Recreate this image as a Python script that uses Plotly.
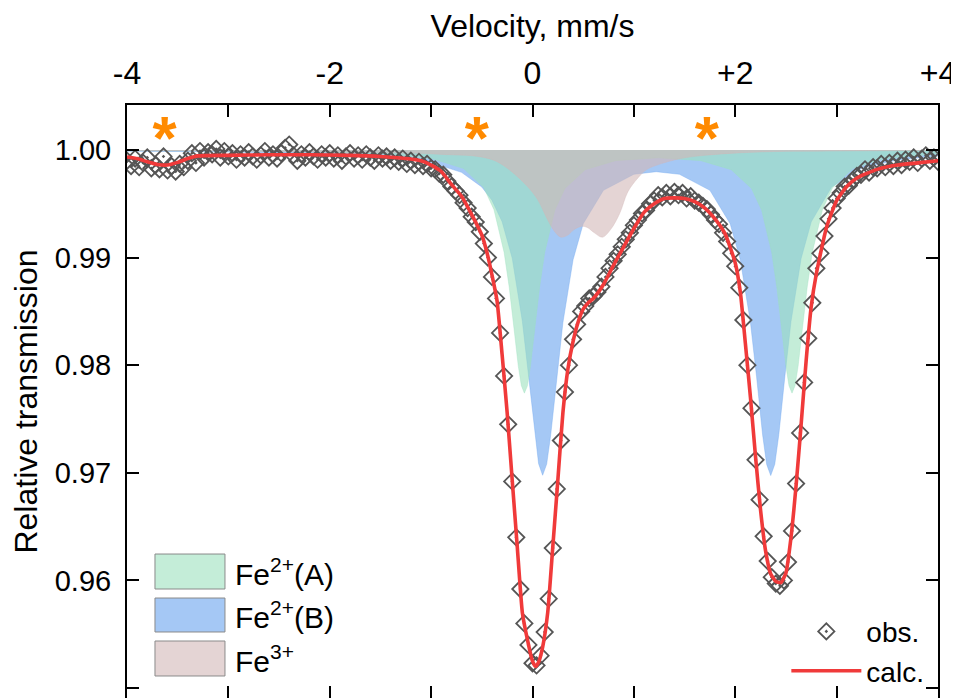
import numpy as np
import plotly.graph_objects as go

# ---------------- data ----------------
# observed spectrum: velocity channels and relative transmission
obs_v = np.round(np.linspace(-4.0, 4.0, 201), 2)
obs_t = [
    0.9990, 0.9985, 0.9992, 0.9984, 0.9988, 0.9993, 0.9983, 0.9986, 0.9982, 0.9994,
    0.9981, 0.9985, 0.9980, 0.9987, 0.9984, 0.9990, 0.9997, 0.9988, 0.9999, 0.9993,
    0.9998, 0.9996, 1.0001, 0.9993, 0.9999, 0.9994, 0.9997, 0.9991, 0.9996, 0.9993,
    0.9998, 0.9994, 0.9991, 0.9995, 0.9999, 0.9993, 0.9996, 0.9992, 0.9997, 1.0002,
    1.0005, 0.9995, 0.9990, 0.9996, 0.9993, 0.9998, 0.9994, 0.9991, 0.9996, 0.9993,
    0.9997, 0.9992, 0.9995, 0.9990, 0.9994, 0.9997, 0.9992, 0.9995, 0.9991, 0.9996,
    0.9993, 0.9990, 0.9995, 0.9992, 0.9994, 0.9990, 0.9993, 0.9989, 0.9992, 0.9987,
    0.9990, 0.9986, 0.9989, 0.9985, 0.9987, 0.9983, 0.9982, 0.9978, 0.9977, 0.9971,
    0.9966, 0.9962, 0.9958, 0.9951, 0.9946, 0.9938, 0.9933, 0.9924, 0.9913, 0.9900,
    0.9882, 0.9862, 0.9830, 0.9790, 0.9745, 0.9692, 0.9640, 0.9592, 0.9560, 0.9540,
    0.9523, 0.9521, 0.9530, 0.9552, 0.9583, 0.9630, 0.9685, 0.9730, 0.9775, 0.9800,
    0.9824, 0.9838, 0.9850, 0.9855, 0.9862, 0.9864, 0.9868, 0.9873, 0.9882, 0.9890,
    0.9897, 0.9903, 0.9910, 0.9917, 0.9923, 0.9930, 0.9935, 0.9941, 0.9944, 0.9950,
    0.9953, 0.9958, 0.9956, 0.9960, 0.9957, 0.9961, 0.9958, 0.9960, 0.9955, 0.9957,
    0.9953, 0.9951, 0.9948, 0.9945, 0.9940, 0.9935, 0.9931, 0.9923, 0.9915, 0.9904,
    0.9892, 0.9872, 0.9842, 0.9800, 0.9760, 0.9712, 0.9675, 0.9641, 0.9618, 0.9603,
    0.9597, 0.9595, 0.9600, 0.9617, 0.9646, 0.9690, 0.9737, 0.9784, 0.9825, 0.9858,
    0.9890, 0.9904, 0.9920, 0.9936, 0.9946, 0.9955, 0.9960, 0.9966, 0.9967, 0.9972,
    0.9976, 0.9977, 0.9982, 0.9979, 0.9984, 0.9983, 0.9987, 0.9984, 0.9988, 0.9985,
    0.9990, 0.9986, 0.9991, 0.9989, 0.9993, 0.9988, 0.9992, 0.9995, 0.9990, 0.9993,
    0.9989,
]

# calculated envelope
calc_v = [-4.0, -3.9, -3.8, -3.7, -3.6, -3.5, -3.4, -3.3, -3.0, -2.6, -2.2, -1.8, -1.5,
          -1.3, -1.1, -1.0, -0.9, -0.8, -0.7, -0.6, -0.5, -0.45, -0.4, -0.35, -0.3,
          -0.25, -0.2, -0.15, -0.1, -0.05, 0.0, 0.03, 0.06, 0.1, 0.15, 0.2, 0.25, 0.3,
          0.35, 0.4, 0.45, 0.5, 0.55, 0.6, 0.7, 0.8, 0.9, 1.0, 1.1, 1.2, 1.3, 1.4, 1.5,
          1.6, 1.7, 1.8, 1.9, 2.0, 2.05, 2.1, 2.15, 2.2, 2.25, 2.3, 2.35, 2.4, 2.45, 2.5,
          2.55, 2.6, 2.65, 2.7, 2.75, 2.8, 2.9, 3.0, 3.1, 3.2, 3.4, 3.6, 3.8, 4.0]
calc_t = [0.99935, 0.9992, 0.9989, 0.99865, 0.9986, 0.99885, 0.9992, 0.99945, 0.9995,
          0.99955, 0.99955, 0.9995, 0.9994, 0.99925, 0.9990, 0.9986, 0.9980, 0.9968,
          0.9957, 0.9940, 0.9921, 0.9905, 0.9884, 0.9860, 0.9810, 0.9756, 0.9693,
          0.9631, 0.9570, 0.9545, 0.9525, 0.9520, 0.9524, 0.9538, 0.9570, 0.9631,
          0.9693, 0.9756, 0.9797, 0.9822, 0.9840, 0.9852, 0.9858, 0.9862, 0.9875,
          0.9893, 0.9910, 0.9927, 0.9942, 0.9950, 0.9955, 0.99555, 0.9955, 0.9952,
          0.9946, 0.9936, 0.9922, 0.9895, 0.9868, 0.9820, 0.9770, 0.9715, 0.9665,
          0.9627, 0.9606, 0.9599, 0.9598, 0.9607, 0.9640, 0.9688, 0.9745, 0.9805,
          0.9855, 0.9885, 0.9928, 0.9953, 0.9966, 0.9974, 0.9982, 0.9986, 0.9988, 0.9990]

# sub-spectrum Fe2+(A)
feA_v = [-4.0, -3.0, -2.0, -1.4, -0.98, -0.68, -0.48, -0.38, -0.28, -0.23, -0.18, -0.14,
         -0.11, -0.08, -0.05, -0.02, 0.02, 0.07, 0.12, 0.22, 0.32, 0.52, 0.82, 1.24,
         1.66, 1.96, 2.16, 2.26, 2.36, 2.41, 2.46, 2.50, 2.53, 2.56, 2.59, 2.62, 2.66,
         2.71, 2.76, 2.86, 2.96, 3.16, 3.46, 4.0]
feA_t = [0.99994, 0.99990, 0.99979, 0.99959, 0.99917, 0.99827, 0.99649, 0.99445,
         0.99048, 0.98727, 0.98320, 0.97990, 0.97810, 0.97740, 0.97808, 0.97990,
         0.98318, 0.98725, 0.99046, 0.99441, 0.99643, 0.99817, 0.99901, 0.99927,
         0.99901, 0.99817, 0.99643, 0.99441, 0.99045, 0.98725, 0.98318, 0.97990,
         0.97810, 0.97740, 0.97810, 0.97990, 0.98319, 0.98727, 0.99048, 0.99445,
         0.99649, 0.99827, 0.99917, 0.99965]

# sub-spectrum Fe2+(B)
feB_v = [-4.0, -3.0, -2.0, -1.4, -1.0, -0.7, -0.5, -0.4, -0.3, -0.2, -0.1, -0.04, 0.02,
         0.06, 0.10, 0.14, 0.18, 0.24, 0.30, 0.40, 0.50, 0.70, 1.00, 1.22, 1.45, 1.75,
         1.95, 2.05, 2.15, 2.21, 2.27, 2.31, 2.35, 2.39, 2.43, 2.49, 2.55, 2.65, 2.75,
         2.95, 3.25, 3.6, 4.0]
feB_t = [0.99989, 0.99982, 0.99963, 0.99933, 0.99883, 0.99792, 0.99656, 0.99533,
         0.99334, 0.98993, 0.98407, 0.97903, 0.97360, 0.97085, 0.96977, 0.97081,
         0.97355, 0.97894, 0.98396, 0.98979, 0.99314, 0.99625, 0.99774, 0.99798,
         0.99774, 0.99625, 0.99314, 0.98979, 0.98396, 0.97894, 0.97352, 0.97078,
         0.96974, 0.97080, 0.97356, 0.97900, 0.98405, 0.98992, 0.99332, 0.99655,
         0.99832, 0.99907, 0.99944]

# sub-spectrum Fe3+
fe3_v = [-4.0, -3.0, -2.0, -1.2, -0.8, -0.54, -0.37, -0.22, -0.05, 0.05, 0.15, 0.22,
         0.28, 0.35, 0.41, 0.48, 0.54, 0.61, 0.69, 0.77, 0.86, 0.94, 1.04, 1.13, 1.23,
         1.46, 1.7, 2.2, 3.0, 4.0]
fe3_t = [0.99995, 0.9999, 0.9998, 0.9997, 0.99955, 0.9994, 0.9990, 0.9981, 0.9966,
         0.9954, 0.9935, 0.9924, 0.9919, 0.9921, 0.9926, 0.9929, 0.9928, 0.9923,
         0.9919, 0.9926, 0.9941, 0.9961, 0.9974, 0.9982, 0.9986, 0.9992, 0.9995,
         0.9998, 0.9999, 0.99995]

baseline_v = [-4.0, 4.0]
baseline_t = [1.0, 1.0]

# impurity markers (asterisks)
star_v = [-3.63, -0.55, 1.72]
star_t = [1.0006, 1.0006, 1.0006]

x_ticks = [-4, -2, 0, 2, 4]
x_labels = ["-4", "-2", "0", "+2", "+4"]
x_minor = [-3, -1, 1, 3]
y_ticks = [0.95, 0.96, 0.97, 0.98, 0.99, 1.00]
y_labels = ["0.95", "0.96", "0.97", "0.98", "0.99", "1.00"]

comp_names = ["Fe<sup>2+</sup>(A)", "Fe<sup>2+</sup>(B)", "Fe<sup>3+</sup>"]

# ---------------- styling ----------------
FONT = "Liberation Sans, Arial, sans-serif"
col_A = "rgba(157,225,190,0.6)"
col_B = "rgba(105,163,238,0.6)"
col_3 = "rgba(210,183,183,0.6)"

fig = go.Figure()

def add_component(v, t, col, shape="linear"):
    fig.add_trace(go.Scatter(x=baseline_v, y=baseline_t, mode="lines",
                             line=dict(width=0, color=col), showlegend=False,
                             hoverinfo="skip"))
    fig.add_trace(go.Scatter(x=v, y=t, mode="lines",
                             line=dict(width=0.6, color=col, shape=shape),
                             fill="tonexty", fillcolor=col, showlegend=False))

add_component(feB_v, feB_t, col_B)
add_component(feA_v, feA_t, col_A)
add_component(fe3_v, fe3_t, col_3, shape="spline")

fig.add_trace(go.Scatter(
    x=obs_v, y=obs_t, mode="markers", name="obs.", legend="legend2",
    marker=dict(symbol="diamond-open-dot", size=12.5, color="#555555",
                line=dict(width=1.8, color="#555555"))))

fig.add_trace(go.Scatter(
    x=calc_v, y=calc_t, mode="lines", name="calc.", legend="legend2",
    line=dict(color="#f03a3a", width=3.6, shape="spline", smoothing=0.5)))

fig.add_trace(go.Scatter(
    x=star_v, y=star_t, mode="text", text=["*"] * len(star_v),
    textposition="middle center", showlegend=False, hoverinfo="skip",
    textfont=dict(family=FONT, size=62, color="#ff8a00", weight="bold")))

# custom legend for the filled sub-spectra
box_y = [(0.1838, 0.2428), (0.1113, 0.1686), (0.0371, 0.0961)]
for (y0, y1), col, name in zip(box_y, [col_A, col_B, col_3], comp_names):
    fig.add_shape(type="rect", xref="paper", yref="paper",
                  x0=0.0345, x1=0.1208, y0=y0, y1=y1,
                  fillcolor=col, line=dict(color="#8a8a8a", width=1))
    fig.add_annotation(xref="paper", yref="paper", x=0.1307, y=(y0 + y1) / 2,
                       text=name, showarrow=False, xanchor="left", yanchor="middle",
                       font=dict(family=FONT, size=30, color="black"))

# the page adds an 8 px body margin, so the figure is 8 px smaller
fig.update_layout(
    width=951, height=690,
    margin=dict(l=119, r=21, t=97, b=0, autoexpand=False),
    paper_bgcolor="white", plot_bgcolor="white",
    font=dict(family=FONT, color="black"),
    showlegend=True,
    legend2=dict(x=0.813, y=0.154, xanchor="left", yanchor="top",
                 bgcolor="rgba(0,0,0,0)", font=dict(family=FONT, size=28),
                 itemwidth=70, tracegroupgap=0),
    xaxis=dict(side="top", range=[-4, 4], tickvals=x_ticks, ticktext=x_labels,
               ticks="inside", ticklen=12, tickwidth=2, tickcolor="black",
               minor=dict(tickvals=x_minor, ticks="inside", ticklen=12, tickwidth=2,
                          tickcolor="black", showgrid=False),
               showline=True, linewidth=2, linecolor="black", mirror="ticks",
               showgrid=False, zeroline=False, ticklabelstandoff=6,
               tickfont=dict(family=FONT, size=32),
               title=dict(text="Velocity, mm/s", font=dict(family=FONT, size=32),
                          standoff=12)),
    yaxis=dict(range=[0.94907, 1.00418], tickvals=y_ticks, ticktext=y_labels,
               ticks="inside", ticklen=12, tickwidth=2, tickcolor="black",
               showline=True, linewidth=2, linecolor="black", mirror="ticks",
               showgrid=False, zeroline=False, ticklabelstandoff=8,
               tickfont=dict(family=FONT, size=29),
               title=dict(text="Relative transmission", font=dict(family=FONT, size=32),
                          standoff=12)),
)

fig.write_html("out.html")
